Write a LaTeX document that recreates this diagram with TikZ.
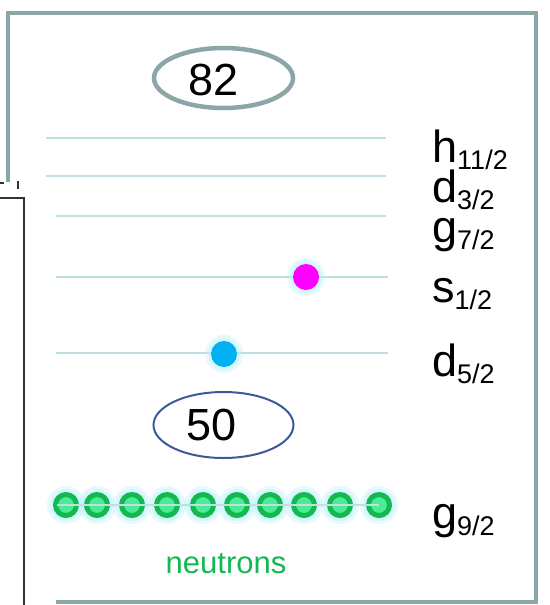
\documentclass[tikz,border=0pt]{standalone}
\usepackage{fontspec}
\setmainfont{Liberation Sans}
\usetikzlibrary{shapes.geometric}
\definecolor{framegray}{HTML}{8CA6A8}
\definecolor{levelc}{HTML}{BDE0E3}
\definecolor{ringgreen}{HTML}{12B850}
\definecolor{innergreen}{HTML}{4DEB94}
\definecolor{glowc}{HTML}{B8F0F8}
\definecolor{magentac}{HTML}{FF00FF}
\definecolor{cyanc}{HTML}{00B0F0}
\definecolor{bluec}{HTML}{3A5A9A}
\newcommand{\bigfnt}{\fontsize{45}{50}\selectfont}
\newcommand{\subfnt}{\fontsize{27}{30}\selectfont}
\newcommand{\lvlsub}[1]{\raisebox{-7pt}{\subfnt #1}}
\tikzset{
  framestyle/.style={draw=framegray, line width=4pt},
  level/.style={draw=levelc, line width=1.5pt},
  lbl/.style={anchor=base west, inner sep=0pt, font=\bigfnt},
  gdot/.style={circle, draw=ringgreen, fill=innergreen, line width=5pt, minimum size=21pt, inner sep=0pt},
  pdot/.style={circle, fill=#1, minimum size=26pt, inner sep=0pt},
  glow/.style={fill=glowc, opacity=0.35},
  magic/.style={ellipse, inner sep=0pt},
}
\begin{document}
\begin{tikzpicture}[x=1pt,y=-1pt]
\useasboundingbox (0,0) rectangle (549,605);
% frame
\draw[framestyle] (8,182) -- (8,13) -- (536,13) -- (536,602) -- (56,602);
% left box and marks
\draw[line width=1.5pt, draw=black!80] (-5,198) -- (24,198) -- (24,610);
\draw[line width=2pt, draw=black!80] (0,183) -- (4,183);
\draw[line width=2pt, draw=black!80] (18,181) -- (18,189);
% magic number ellipses
\node[magic, draw=framegray, line width=4.5pt, minimum width=139pt, minimum height=60pt] (e82) at (223.5,78) {};
\node[inner sep=0pt, font=\bigfnt] (t82) at (214,80) {82};
\node[magic, draw=bluec, line width=2pt, minimum width=140pt, minimum height=66pt] (e50) at (223.5,425) {};
\node[inner sep=0pt, font=\bigfnt] (t50) at (212,425) {50};
% levels
\draw[level] (46,138) -- (386,138);
\draw[level] (46,176) -- (386,176);
\draw[level] (56,216) -- (386,216);
\draw[level] (56,277) -- (388,277);
\draw[level] (56,353) -- (388,353);
% labels
\node[lbl] (lh) at (432,162) {h\lvlsub{11/2}};
\node[lbl] (ld3) at (432,202) {d\lvlsub{3/2}};
\node[lbl] (lg7) at (432,242) {g\lvlsub{7/2}};
\node[lbl] (ls) at (432,302) {s\lvlsub{1/2}};
\node[lbl] (ld5) at (432,376) {d\lvlsub{5/2}};
\node[lbl] (lg9) at (432,528) {g\lvlsub{9/2}};
% single particles
\fill[glow] (306,277) circle (19);
\fill[glow] (306,277) circle (16);
\node[pdot=magentac] (pm) at (306,277) {};
\fill[glow] (224,354) circle (19);
\fill[glow] (224,354) circle (16);
\node[pdot=cyanc] (pc) at (224,354) {};
% neutrons
\foreach \i/\x in {1/66,2/97,3/132,4/167,5/203,6/237,7/270,8/304,9/340,10/379} {
  \fill[glow] (\x,505) circle (19);
  \fill[glow] (\x,505) circle (16);
}
\foreach \i/\x in {1/66,2/97,3/132,4/167,5/203,6/237,7/270,8/304,9/340,10/379} {
  \node[gdot] (n\i) at (\x,505) {};
}
\draw[level] ([xshift=-9pt]n1.center) -- (n10.center);
\node[inner sep=0pt, anchor=base, font=\fontsize{31}{34}\selectfont, text=ringgreen] (neu) at (226,573) {neutrons};
\end{tikzpicture}
\end{document}
